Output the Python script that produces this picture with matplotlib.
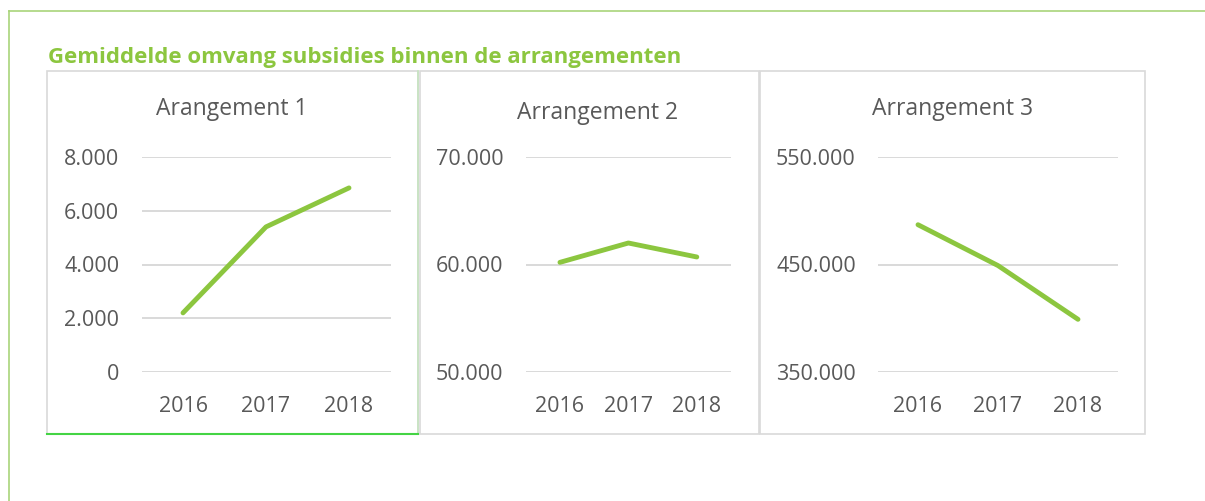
import matplotlib
matplotlib.use("Agg")
import matplotlib.pyplot as plt
from matplotlib.patches import Rectangle
from matplotlib.lines import Line2D
from matplotlib.ticker import FuncFormatter

years = ["2016", "2017", "2018"]
arr1 = [2200, 5400, 6850]
arr2 = [60200, 62000, 60700]
arr3 = [487000, 449000, 399000]
titles = ["Arangement 1", "Arrangement 2", "Arrangement 3"]
yticks1 = [0, 2000, 4000, 6000, 8000]
yticks2 = [50000, 60000, 70000]
yticks3 = [350000, 450000, 550000]
main_title = "Gemiddelde omvang subsidies binnen de arrangementen"

W, H = 1205, 501
GREEN = "#8cc63f"
GREY = "#595959"
plt.rcParams["font.family"] = ["Open Sans", "DejaVu Sans"]

fig = plt.figure(figsize=(W / 100, H / 100), dpi=100)


def fx(x):
    return x / W


def fy(y):
    return 1 - y / H


def rect(x0, y0, x1, y1, **kw):
    fig.add_artist(Rectangle((fx(x0), fy(y1)), fx(x1) - fx(x0), fy(y0) - fy(y1),
                             transform=fig.transFigure, fill=False, **kw))


def hline(x0, x1, y, **kw):
    fig.add_artist(Line2D([fx(x0), fx(x1)], [fy(y), fy(y)], transform=fig.transFigure, **kw))


def vline(x, y0, y1, **kw):
    fig.add_artist(Line2D([fx(x), fx(x)], [fy(y0), fy(y1)], transform=fig.transFigure, **kw))


# outer frame
hline(9, 1205, 11, color="#a9d47a", lw=1.2)
vline(9, 11, 501, color="#a9d47a", lw=1.2)

fig.text(fx(48), fy(57), main_title, color=GREEN, fontsize=16, fontweight="bold",
         ha="left", va="center")

# panel boxes
rect(47, 71, 418, 434, edgecolor="#d9d9d9", lw=1.2)
rect(420, 71, 759, 434, edgecolor="#d9d9d9", lw=1.2)
rect(760, 71, 1145, 434, edgecolor="#d9d9d9", lw=1.2)
vline(418, 71, 434, color="#c6e5c0", lw=1.2)
hline(47, 418, 434, color="#44d444", lw=1.5)

# (values, ticks, title, axes left px, axes right px, title centre x, title centre y)
panels = [
    (arr1, yticks1, titles[0], 141.5, 390.5, 232, 109),
    (arr2, yticks2, titles[1], 525.75, 731, 598, 113),
    (arr3, yticks3, titles[2], 878, 1118, 953, 109),
]

fmt = FuncFormatter(lambda v, p: f"{int(v):,}".replace(",", "."))

for vals, ticks, title, x0, x1, tx, ty in panels:
    ax = fig.add_axes([fx(x0), fy(372), fx(x1) - fx(x0), fy(157) - fy(372)])
    ax.plot(years, vals, color=GREEN, lw=3.5, solid_capstyle="round", solid_joinstyle="round",
            zorder=3)
    ax.set_xlim(-0.5, 2.5)
    ax.set_ylim(ticks[0], ticks[-1])
    ax.set_yticks(ticks)
    ax.yaxis.set_major_formatter(fmt)
    ax.grid(axis="y", color="#d9d9d9", lw=1.4)
    ax.set_axisbelow(True)
    for s in ax.spines.values():
        s.set_visible(False)
    ax.tick_params(axis="both", length=0, labelsize=15.5, labelcolor=GREY)
    ax.tick_params(axis="y", pad=16)
    ax.tick_params(axis="x", pad=17)
    ax.patch.set_alpha(0)
    fig.text(fx(tx), fy(ty), title, color=GREY, fontsize=16.5,
             ha="center", va="center")

fig.savefig("out.png", dpi=100)
